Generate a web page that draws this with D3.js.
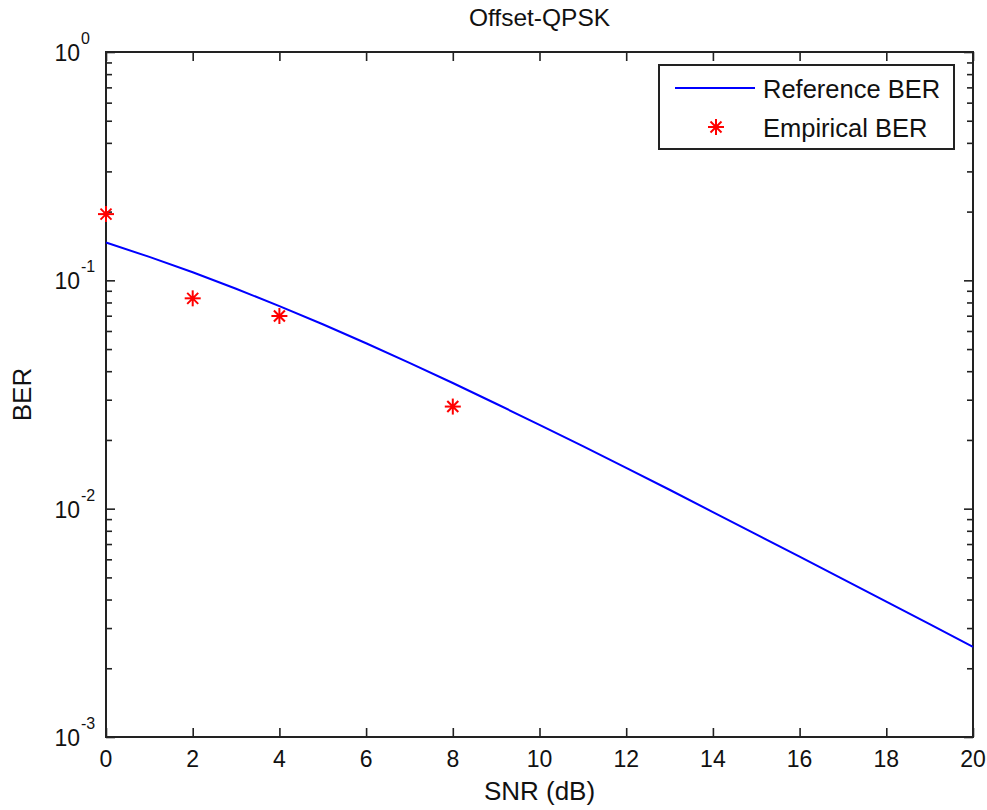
<!DOCTYPE html>
<html>
<head>
<meta charset="utf-8">
<script src="https://cdn.jsdelivr.net/npm/d3@7"></script>
<style>
  html, body { margin: 0; padding: 0; background: #fff; }
  svg { display: block; font-family: "Liberation Sans", Arial, sans-serif; }
  .axis path { display: none; }
  .axis line { stroke: #222; stroke-width: 1.6; }
</style>
</head>
<body>
<svg id="chart" width="987" height="810"></svg>
<script>
// ─── Data ─────────────────────────────────────────────────────────────────────

const snrRef = [0, 1, 2, 3, 4, 5, 6, 7, 8, 9, 10, 11, 12, 13, 14, 15, 16, 17, 18, 19, 20];
const berRef = [0.1464, 0.1267, 0.1085, 0.0919, 0.0771, 0.0642, 0.0530, 0.0435, 0.0355,
                0.0288, 0.0233, 0.0188, 0.0151, 0.0121, 0.00966, 0.00772, 0.00616,
                0.00491, 0.00392, 0.00312, 0.00248];

const snrEmp = [0, 2, 4, 8];
const berEmp = [0.195, 0.0834, 0.0698, 0.0280];

const xTicks      = [0, 2, 4, 6, 8, 10, 12, 14, 16, 18, 20];
const yDecades    = [-3, -2, -1, 0];
const legendNames = ["Reference BER", "Empirical BER"];

// ─── Layout ───────────────────────────────────────────────────────────────────

const L = 106, R = 973, T = 52, B = 737;
const svg = d3.select("#chart");

svg.append("rect").attr("width", 987).attr("height", 810).attr("fill", "#fff");

const x = d3.scaleLinear().domain([0, 20]).range([L, R]);
const y = d3.scaleLog().domain([1e-3, 1]).range([B, T]);

const minorVals = [];
yDecades.slice(0, -1).forEach(e => {
  for (let m = 2; m <= 9; m++) minorVals.push(m * Math.pow(10, e));
});
const majorVals = yDecades.map(e => Math.pow(10, e));

// ─── Axes (ticks inward on all four sides) ────────────────────────────────────

function addAxis(axis, tx, ty) {
  svg.append("g").attr("class", "axis")
    .attr("transform", `translate(${tx},${ty})`)
    .call(axis);
}

addAxis(d3.axisBottom(x).tickValues(xTicks).tickSize(-9).tickFormat(""), 0, B);
addAxis(d3.axisTop(x).tickValues(xTicks).tickSize(-9).tickFormat(""), 0, T);
addAxis(d3.axisLeft(y).tickValues(majorVals).tickSize(-9).tickFormat(""), L, 0);
addAxis(d3.axisRight(y).tickValues(majorVals).tickSize(-9).tickFormat(""), R, 0);
addAxis(d3.axisLeft(y).tickValues(minorVals).tickSize(-6).tickFormat(""), L, 0);
addAxis(d3.axisRight(y).tickValues(minorVals).tickSize(-6).tickFormat(""), R, 0);

// x tick labels
svg.append("g").selectAll("text").data(xTicks).join("text")
  .attr("x", d => x(d)).attr("y", B + 30)
  .attr("text-anchor", "middle")
  .attr("font-size", 23).attr("fill", "#111")
  .text(d => d);

// y tick labels: 10^n
const yl = svg.append("g").selectAll("g").data(yDecades).join("g")
  .attr("transform", e => `translate(0,${y(Math.pow(10, e))})`);
yl.append("text")
  .attr("x", 80).attr("y", 9)
  .attr("text-anchor", "end")
  .attr("font-size", 23).attr("fill", "#111")
  .text("10");
yl.append("text")
  .attr("x", 81).attr("y", -8)
  .attr("font-size", 16).attr("fill", "#111")
  .text(e => e);

// plot frame
svg.append("rect")
  .attr("x", L).attr("y", T).attr("width", R - L).attr("height", B - T)
  .attr("fill", "none").attr("stroke", "#222").attr("stroke-width", 2);

// ─── Series ───────────────────────────────────────────────────────────────────

const line = d3.line().x((d, i) => x(snrRef[i])).y(d => y(d));
svg.append("path").datum(berRef)
  .attr("d", line)
  .attr("fill", "none").attr("stroke", "#0000ff").attr("stroke-width", 2);

function star(g, cx, cy) {
  const a = 8, b = 5.5;
  const s = g.append("g").attr("transform", `translate(${cx},${cy})`)
    .attr("stroke", "#ff0000").attr("stroke-width", 2);
  s.append("line").attr("x1", -a).attr("x2", a);
  s.append("line").attr("y1", -a).attr("y2", a);
  s.append("line").attr("x1", -b).attr("y1", -b).attr("x2", b).attr("y2", b);
  s.append("line").attr("x1", -b).attr("y1", b).attr("x2", b).attr("y2", -b);
  s.append("circle").attr("r", 2.5).attr("fill", "#ff0000").attr("stroke", "none");
}

const pts = svg.append("g");
snrEmp.forEach((s, i) => star(pts, x(s), y(berEmp[i])));

// ─── Labels ───────────────────────────────────────────────────────────────────

svg.append("text")
  .attr("x", (L + R) / 2).attr("y", 26)
  .attr("text-anchor", "middle").attr("font-size", 24.5).attr("fill", "#111")
  .text("Offset-QPSK");

svg.append("text")
  .attr("x", (L + R) / 2).attr("y", 800)
  .attr("text-anchor", "middle").attr("font-size", 26).attr("fill", "#111")
  .text("SNR (dB)");

svg.append("text")
  .attr("transform", `translate(31,${(T + B) / 2}) rotate(-90)`)
  .attr("text-anchor", "middle").attr("font-size", 26).attr("fill", "#111")
  .text("BER");

// ─── Legend ───────────────────────────────────────────────────────────────────

const lg = svg.append("g");
lg.append("rect")
  .attr("x", 659).attr("y", 65).attr("width", 295).attr("height", 84)
  .attr("fill", "#fff").attr("stroke", "#222").attr("stroke-width", 2);
lg.append("line")
  .attr("x1", 675).attr("x2", 755).attr("y1", 88).attr("y2", 88)
  .attr("stroke", "#0000ff").attr("stroke-width", 2);
star(lg, 716, 127);
lg.selectAll("text.lbl").data(legendNames).join("text")
  .attr("class", "lbl")
  .attr("x", 763).attr("y", (d, i) => 98 + i * 39)
  .attr("font-size", 25.5).attr("fill", "#111")
  .text(d => d);
</script>
</body>
</html>
